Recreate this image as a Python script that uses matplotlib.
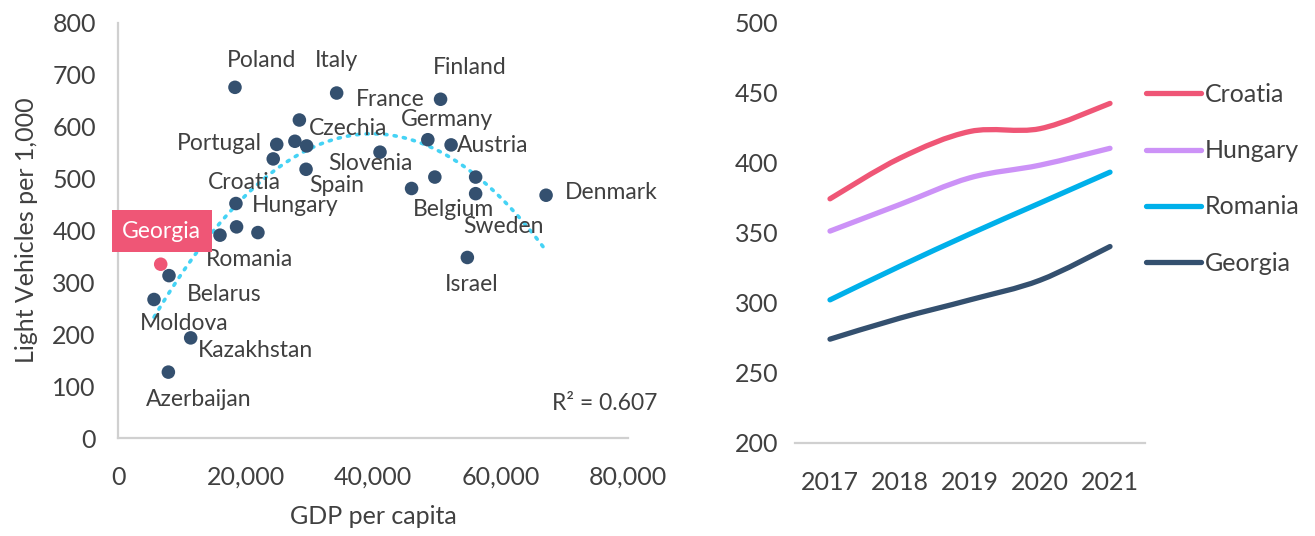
import numpy as np
import matplotlib
matplotlib.use("Agg")
import matplotlib.pyplot as plt
from matplotlib.path import Path
from matplotlib.patches import PathPatch
from matplotlib.lines import Line2D

plt.rcParams['font.family'] = ['Lato', 'DejaVu Sans']

# scatter data: GDP per capita vs light vehicles per 1,000
countries = ["Poland", "Italy", "Finland", "Czechia", "Portugal", "", "Slovenia", "France",
             "", "Spain", "Croatia", "Hungary", "Romania", "", "Georgia", "Belarus",
             "Moldova", "Kazakhstan", "Azerbaijan", "Germany", "Austria", "", "Belgium",
             "", "Sweden", "Denmark", "Israel"]
gdp = [18350, 34300, 50600, 28450, 24900, 27750, 29600, 41100,
       24350, 29500, 18500, 18600, 16000, 21950, 6700, 8000,
       5650, 11400, 7900, 48600, 52250, 49700, 46050,
       56100, 56100, 67150, 54800]
vehicles = [676, 665, 653, 613, 566, 572, 563, 551,
            538, 518, 452, 407, 391, 396, 335, 313,
            267, 193, 127, 575, 565, 503, 481,
            503, 471, 468, 348]

# right chart: light vehicles per 1,000 by year
years = [2017, 2018, 2019, 2020, 2021]
croatia = [374, 403, 422, 424, 442]
hungary = [351, 370, 389, 398, 410]
romania = [302, 326, 349, 371, 393]
georgia = [274, 289, 302, 316, 340]

# label offsets in pixels (dx, dy) from each point
label_offsets = {
    "Poland": (27, 27), "Italy": (0, 33), "Finland": (29, 32), "Czechia": (49, -8),
    "Portugal": (-57, 1), "Slovenia": (64, -18), "France": (10, 53), "Spain": (31, -16),
    "Croatia": (8, 21), "Hungary": (59, 21), "Romania": (30, -24), "Georgia": (1, 33),
    "Belarus": (55, -19), "Moldova": (30, -24), "Kazakhstan": (65, -13),
    "Azerbaijan": (30, -27), "Germany": (19, 20), "Austria": (42, -1),
    "Belgium": (42, -21), "Sweden": (28, -33), "Denmark": (65, 3), "Israel": (4, -27),
}

navy = "#34506F"
pink = "#EF5676"
lilac = "#CC92F7"
cyan = "#00B0EA"
trend_c = "#45D3F5"
text_c = "#404040"
grid_c = "#D0D0D0"

fig = plt.figure(figsize=(13.15, 5.36), dpi=100)
W, H = 1315, 536

# ---------------- left: scatter ----------------
ax1 = fig.add_axes([118 / W, 1 - 438 / H, 510 / W, 415 / H])
colors = [pink if c == "Georgia" else navy for c in countries]
ax1.scatter(gdp, vehicles, s=95, c=colors, zorder=3, linewidths=0)

coef = np.polyfit(gdp, vehicles, 2)
xs = np.linspace(min(gdp), max(gdp), 200)
ax1.plot(xs, np.polyval(coef, xs), color=trend_c, lw=2.6, ls=(0, (0.6, 2.0)),
         dash_capstyle='round', zorder=2)

for name, x, y in zip(countries, gdp, vehicles):
    if not name:
        continue
    dx, dy = label_offsets[name]
    if name == "Georgia":
        ax1.annotate(name, (x, y), xytext=(dx, dy), textcoords='offset pixels',
                     ha='center', va='center', fontsize=16.5, color='white', zorder=4,
                     bbox=dict(boxstyle='square,pad=0.45', fc=pink, ec='none'))
    else:
        ax1.annotate(name, (x, y), xytext=(dx, dy), textcoords='offset pixels',
                     ha='center', va='center', fontsize=16.5, color=text_c, zorder=4)

ax1.set_xlim(0, 80000)
ax1.set_ylim(0, 800)
ax1.set_xticks(range(0, 80001, 20000))
ax1.set_xticklabels([f"{v:,}" for v in range(0, 80001, 20000)])
ax1.set_yticks(range(0, 801, 100))
ax1.tick_params(axis='both', length=0, labelsize=18, labelcolor=text_c)
ax1.tick_params(axis='x', pad=20)
ax1.tick_params(axis='y', pad=16)
for s in ['top', 'right']:
    ax1.spines[s].set_visible(False)
for s in ['left', 'bottom']:
    ax1.spines[s].set_color(grid_c)
    ax1.spines[s].set_linewidth(1.6)
ax1.set_xlabel("GDP per capita", fontsize=18, color=text_c, labelpad=12)
ax1.set_ylabel("Light Vehicles per 1,000", fontsize=18, color=text_c, labelpad=10)
fig.text(657 / W, 1 - 403 / H, "R² = 0.607", ha='right', va='center',
         fontsize=16.5, color=text_c)

# ---------------- right: smoothed lines ----------------
ax2 = fig.add_axes([795 / W, 1 - 443 / H, 350 / W, 421 / H])


def smooth_path(xv, yv):
    p = np.column_stack([xv, yv]).astype(float)
    pts = [p[0]]
    codes = [Path.MOVETO]
    n = len(p)
    for i in range(n - 1):
        p0 = p[i - 1] if i > 0 else p[i]
        p1, p2 = p[i], p[i + 1]
        p3 = p[i + 2] if i + 2 < n else p[i + 1]
        c1 = p1 + (p2 - p0) / 6
        c2 = p2 - (p3 - p1) / 6
        pts += [c1, c2, p2]
        codes += [Path.CURVE4] * 3
    return Path(pts, codes)


series = [("Croatia", croatia, pink), ("Hungary", hungary, lilac),
          ("Romania", romania, cyan), ("Georgia", georgia, navy)]
handles = []
for name, vals, col in series:
    patch = PathPatch(smooth_path(years, vals), fill=False, ec=col, lw=3.8,
                      capstyle='round', joinstyle='round')
    ax2.add_patch(patch)
    handles.append(Line2D([], [], color=col, lw=3.8, solid_capstyle='round', label=name))

ax2.set_xlim(2016.5, 2021.5)
ax2.set_ylim(200, 500)
ax2.set_xticks(years)
ax2.set_yticks(range(200, 501, 50))
ax2.tick_params(axis='both', length=0, labelsize=18, labelcolor=text_c)
ax2.tick_params(axis='x', pad=20)
ax2.tick_params(axis='y', pad=12)
for s in ['top', 'right', 'left']:
    ax2.spines[s].set_visible(False)
ax2.spines['bottom'].set_color(grid_c)
ax2.spines['bottom'].set_linewidth(1.6)

fig.legend(handles=handles, loc='upper left', bbox_to_anchor=(1146 / W, 1 - 83 / H),
           frameon=False, fontsize=18, handlelength=2.2, handletextpad=0.15,
           labelspacing=1.33, borderpad=0, borderaxespad=0, labelcolor=text_c)

fig.savefig("out.png", dpi=100)
